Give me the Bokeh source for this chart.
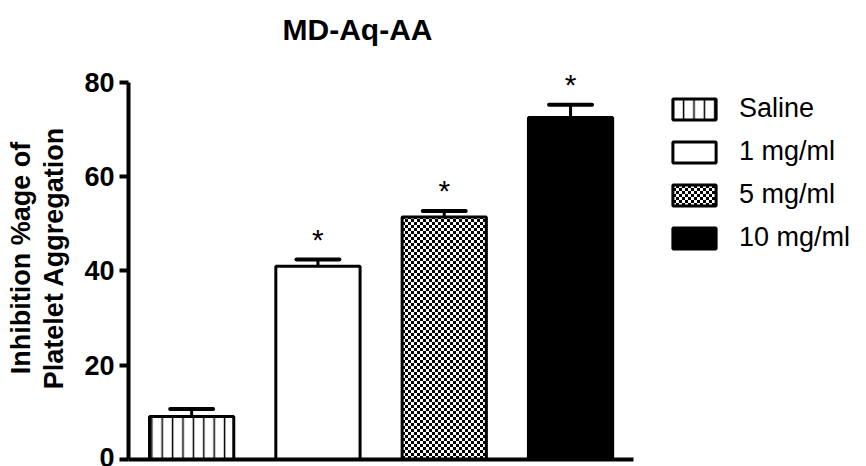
import base64, struct, zlib
from bokeh.plotting import figure
from bokeh.models import Legend, LegendItem, ImageURLTexture, FixedTicker
from bokeh.core.properties import value
from bokeh.embed import file_html
from bokeh.resources import INLINE

# ---- data ----
groups = ["Saline", "1 mg/ml", "5 mg/ml", "10 mg/ml"]
means = [9.1, 41.0, 51.4, 72.5]
sems = [1.6, 1.4, 1.3, 2.7]
signif = ["", "*", "*", "*"]
y_ticks = [0, 20, 40, 60, 80]
title_text = "MD-Aq-AA"
y_label = "Inhibition %age of\nPlatelet Aggregation"

FONT = "Liberation Sans"
BAR_W = 0.667


def checker_png(cell=3):
    n = cell * 2
    rows = []
    for yy in range(n):
        row = bytes([0 if ((xx // cell) + (yy // cell)) % 2 == 0 else 255 for xx in range(n)])
        rows.append(b"\x00" + row)
    raw = b"".join(rows)

    def chunk(t, d):
        c = struct.pack(">I", len(d)) + t + d
        return c + struct.pack(">I", zlib.crc32(t + d) & 0xFFFFFFFF)

    ihdr = struct.pack(">IIBBBBB", n, n, 8, 0, 0, 0, 0)
    png = b"\x89PNG\r\n\x1a\n" + chunk(b"IHDR", ihdr) + chunk(b"IDAT", zlib.compress(raw)) + chunk(b"IEND", b"")
    return "data:image/png;base64," + base64.b64encode(png).decode()


checker_tex = ImageURLTexture(url=checker_png(3))

W, H = 866, 466
LEFT, RIGHT, BOTTOM = 128, 4, 7
TOP_EST = 56          # height of the title panel above the frame
PX_PER_GROUP = 126.3
PX_PER_UNIT = 4.716
x_end = 0.5 + (W - LEFT - RIGHT) / PX_PER_GROUP
y_end = (H - BOTTOM - TOP_EST) / PX_PER_UNIT

p = figure(width=W, height=H, output_backend="svg", toolbar_location=None,
           x_range=(0.5, x_end), y_range=(0, y_end),
           min_border_left=LEFT, min_border_right=RIGHT, min_border_top=0, min_border_bottom=BOTTOM)
p.outline_line_color = None
p.grid.visible = False
p.background_fill_color = "white"

styles = [
    dict(fill_color="white", hatch_pattern="vertical_line", hatch_scale=10.4, hatch_weight=1.5, hatch_color="black"),
    dict(fill_color="white"),
    dict(fill_color="white", hatch_pattern=value("checker"), hatch_extra={"checker": checker_tex},
         hatch_color="black"),
    dict(fill_color="black"),
]

xs = list(range(1, len(groups) + 1))
uppers = [m + s for m, s in zip(means, sems)]

items = []
for i, g in enumerate(groups):
    r = p.vbar(x=[xs[i]], top=[means[i]], bottom=0, width=BAR_W,
               line_color="black", line_width=3, **styles[i])
    items.append(LegendItem(label=g, renderers=[r]))

# error bars (upper)
p.segment(x0=xs, y0=means, x1=xs, y1=uppers, line_color="black", line_width=3)
p.segment(x0=[x - 0.17 for x in xs], y0=uppers, x1=[x + 0.17 for x in xs], y1=uppers,
          line_color="black", line_width=4, line_cap="round")

# significance stars
p.text(x=xs, y=[u + 4.25 for u in uppers], text=signif, text_font=value(FONT),
       text_font_size="30px", text_align="center", text_baseline="alphabetic", text_color="black")

legend = Legend(items=items, location=(539, 206), glyph_width=54, glyph_height=26,
                label_standoff=18, spacing=12, padding=0, margin=0, label_height=21,
                label_text_font=FONT, label_text_font_size="27px", label_text_color="black",
                border_line_color=None, background_fill_alpha=0)
p.add_layout(legend, "center")

# title
p.title.text = title_text
p.title.text_font = FONT
p.title.text_font_size = "30px"
p.title.text_font_style = "bold"
p.title.text_color = "black"
p.title.align = "left"
p.title.offset = 154
p.title.standoff = 21

# y axis
ya = p.yaxis[0]
ya.ticker = FixedTicker(ticks=y_ticks)
ya.bounds = (y_ticks[0], y_ticks[-1])
ya.minor_tick_line_color = None
ya.major_tick_in = 0
ya.major_tick_out = 9
ya.major_tick_line_width = 4
ya.axis_line_width = 4
ya.major_label_text_font = FONT
ya.major_label_text_font_size = "27px"
ya.major_label_text_font_style = "bold"
ya.major_label_text_color = "black"
ya.major_label_standoff = 5
ya.axis_label = y_label
ya.axis_label_text_font = FONT
ya.axis_label_text_font_size = "27px"
ya.axis_label_text_font_style = "bold"
ya.axis_label_text_color = "black"
ya.axis_label_text_line_height = 1.1
ya.axis_label_standoff = 12

# x axis: line only, spanning the bar area
xa = p.xaxis[0]
xa.ticker = FixedTicker(ticks=[])
xa.bounds = (0.5, len(groups) + 0.5)
xa.major_tick_in = 0
xa.major_tick_out = 0
xa.minor_tick_line_color = None
xa.major_label_text_font_size = "0px"
xa.axis_line_width = 4

open("out.html", "w").write(file_html(p, INLINE))
